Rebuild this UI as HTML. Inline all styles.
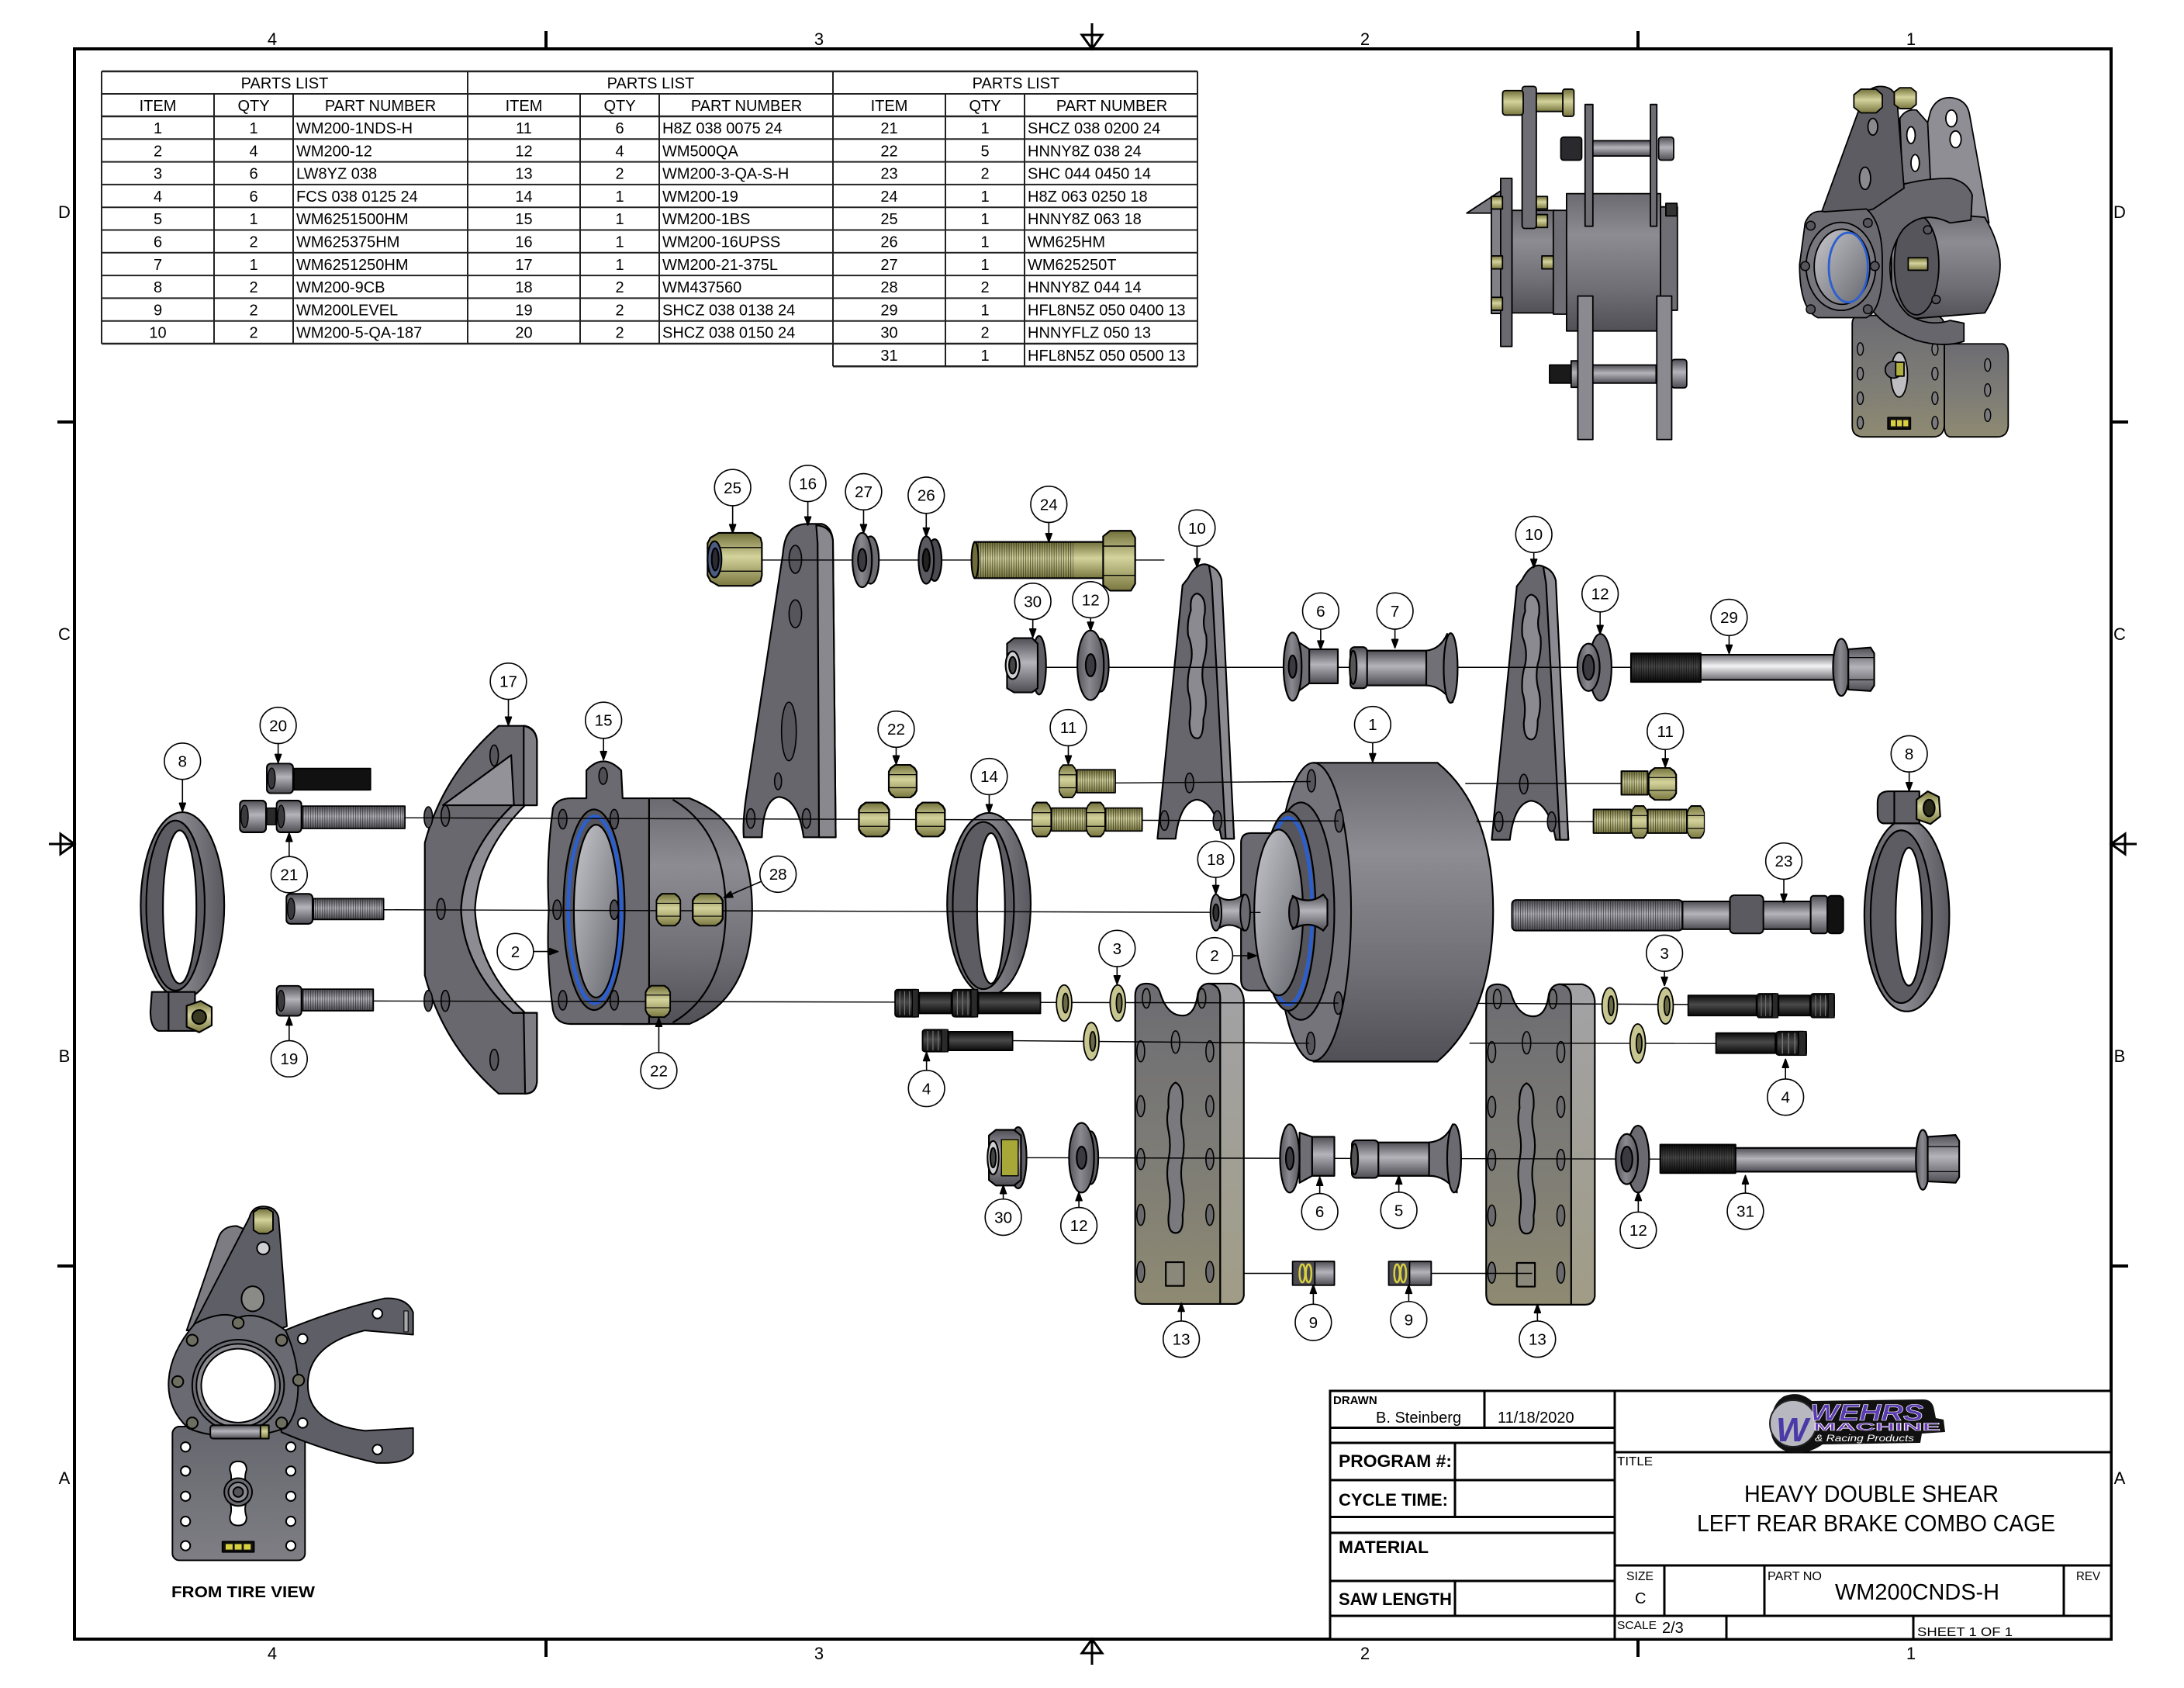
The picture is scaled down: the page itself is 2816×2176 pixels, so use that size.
<!DOCTYPE html>
<html><head><meta charset="utf-8"><title>WM200CNDS-H</title>
<style>html,body{margin:0;padding:0;background:#fff}svg{display:block}text{font-family:"Liberation Sans",Arial,sans-serif;fill:#000}</style>
</head><body>
<svg xmlns="http://www.w3.org/2000/svg" width="2816" height="2176" viewBox="0 0 2816 2176">
<defs>
<linearGradient id="gm" x1="0" y1="0" x2="1" y2="0"><stop offset="0" stop-color="#55555b"/><stop offset="0.45" stop-color="#8a8a90"/><stop offset="1" stop-color="#58585e"/></linearGradient>
<linearGradient id="gh" x1="0" y1="0" x2="0" y2="1"><stop offset="0" stop-color="#6a6a70"/><stop offset="0.3" stop-color="#8c8c92"/><stop offset="0.7" stop-color="#6e6e74"/><stop offset="1" stop-color="#505056"/></linearGradient>
<linearGradient id="gv" x1="0" y1="0" x2="0" y2="1"><stop offset="0" stop-color="#4e4e54"/><stop offset="0.45" stop-color="#b4b4ba"/><stop offset="1" stop-color="#4c4c52"/></linearGradient>
<linearGradient id="gs" x1="0" y1="0" x2="0" y2="1"><stop offset="0" stop-color="#75757b"/><stop offset="0.45" stop-color="#f4f4f6"/><stop offset="1" stop-color="#6c6c72"/></linearGradient>
<linearGradient id="gk" x1="0" y1="0" x2="0" y2="1"><stop offset="0" stop-color="#0a0a0a"/><stop offset="0.45" stop-color="#4a4a4a"/><stop offset="1" stop-color="#0a0a0a"/></linearGradient>
<linearGradient id="gb" x1="0" y1="0" x2="0" y2="1"><stop offset="0" stop-color="#72703a"/><stop offset="0.45" stop-color="#d4d39c"/><stop offset="1" stop-color="#7a7840"/></linearGradient>
<linearGradient id="gt" x1="0" y1="0" x2="0" y2="1"><stop offset="0" stop-color="#6c6c72"/><stop offset="0.5" stop-color="#7c7b76"/><stop offset="1" stop-color="#8e8a72"/></linearGradient>
<linearGradient id="gts" x1="0" y1="0" x2="0" y2="1"><stop offset="0" stop-color="#a2a2a6"/><stop offset="1" stop-color="#a09c86"/></linearGradient>
<linearGradient id="gt2" x1="0" y1="0" x2="0" y2="1"><stop offset="0" stop-color="#66666e"/><stop offset="1" stop-color="#7e7e84"/></linearGradient>
<linearGradient id="gbore" x1="0" y1="0" x2="1" y2="1"><stop offset="0" stop-color="#c6c6cc"/><stop offset="1" stop-color="#66666e"/></linearGradient>
<pattern id="th" width="1.7" height="10" patternUnits="userSpaceOnUse"><rect width="0.6" height="10" fill="#000" fill-opacity="0.5"/></pattern>
<symbol id="nutB" viewBox="0 0 20 26" preserveAspectRatio="none"><path d="M2 3 L5 0.5 L15 0.5 L18 3 L19.5 6 L19.5 20 L18 23 L15 25.5 L5 25.5 L2 23 L0.5 20 L0.5 6 Z" fill="url(#gb)" stroke="#000" stroke-width="1.3"/><line x1="0.5" y1="8" x2="19.5" y2="8" stroke="#000" stroke-width="0.7"/><line x1="0.5" y1="18" x2="19.5" y2="18" stroke="#000" stroke-width="0.7"/></symbol>
<symbol id="cap" viewBox="0 0 20 24" preserveAspectRatio="none"><rect x="0.6" y="0.6" width="18.8" height="22.8" rx="3" fill="url(#gv)" stroke="#000" stroke-width="1.2"/><ellipse cx="4" cy="12" rx="2.6" ry="8" fill="#3a3a3e" stroke="#000" stroke-width="0.8"/></symbol>
<symbol id="spl" viewBox="0 0 18 22" preserveAspectRatio="none"><rect x="0.6" y="0.6" width="16.8" height="20.8" rx="2" fill="url(#gk)" stroke="#000" stroke-width="1"/><g stroke="#777" stroke-width="0.6"><line x1="4" y1="2" x2="4" y2="20"/><line x1="7.5" y1="2" x2="7.5" y2="20"/><line x1="11" y1="2" x2="11" y2="20"/></g><rect x="13" y="0.6" width="4.4" height="20.8" fill="#2a2a2a" stroke="#000" stroke-width="0.8"/></symbol>
</defs>
<rect width="2816" height="2176" fill="#fff"/>

<!-- ===== FRAME ===== -->
<g stroke="#000" fill="none">
<rect x="96" y="63" width="2626" height="2050" stroke-width="4"/>
<g stroke-width="4">
<line x1="704" y1="40" x2="704" y2="63"/><line x1="2112" y1="40" x2="2112" y2="63"/>
<line x1="704" y1="2113" x2="704" y2="2136"/><line x1="2112" y1="2113" x2="2112" y2="2136"/>
<line x1="74" y1="544" x2="96" y2="544"/><line x1="74" y1="1632" x2="96" y2="1632"/>
<line x1="2722" y1="544" x2="2744" y2="544"/><line x1="2722" y1="1632" x2="2744" y2="1632"/>
</g>
<g stroke-width="3">
<line x1="1408" y1="30" x2="1408" y2="63"/><polygon points="1395,45 1421,45 1408,63"/>
<line x1="1408" y1="2113" x2="1408" y2="2146"/><polygon points="1395,2131 1421,2131 1408,2113"/>
<line x1="63" y1="1088" x2="96" y2="1088"/><polygon points="78,1075 78,1101 96,1088"/>
<line x1="2722" y1="1088" x2="2755" y2="1088"/><polygon points="2740,1075 2740,1101 2722,1088"/>
</g>
</g>
<g font-size="22" text-anchor="middle">
<text x="351" y="58">4</text><text x="1056" y="58">3</text><text x="1760" y="58">2</text><text x="2464" y="58">1</text>
<text x="351" y="2139">4</text><text x="1056" y="2139">3</text><text x="1760" y="2139">2</text><text x="2464" y="2139">1</text>
<text x="83" y="281">D</text><text x="83" y="825">C</text><text x="83" y="1369">B</text><text x="83" y="1913">A</text>
<text x="2733" y="281">D</text><text x="2733" y="825">C</text><text x="2733" y="1369">B</text><text x="2733" y="1913">A</text>
</g>

<!-- ===== PARTS LIST TABLE ===== -->
<g stroke="#222" stroke-width="2" fill="none">
<line x1="131" y1="92" x2="1544" y2="92" stroke-width="2.5"/>
<line x1="131" y1="121" x2="1544" y2="121"/>
<line x1="131" y1="150" x2="1544" y2="150" stroke-width="2.5"/>
<line x1="131" y1="179.3" x2="1544" y2="179.3"/><line x1="131" y1="208.6" x2="1544" y2="208.6"/>
<line x1="131" y1="237.9" x2="1544" y2="237.9"/><line x1="131" y1="267.2" x2="1544" y2="267.2"/>
<line x1="131" y1="296.5" x2="1544" y2="296.5"/><line x1="131" y1="325.8" x2="1544" y2="325.8"/>
<line x1="131" y1="355.1" x2="1544" y2="355.1"/><line x1="131" y1="384.4" x2="1544" y2="384.4"/>
<line x1="131" y1="413.7" x2="1544" y2="413.7"/><line x1="131" y1="443" x2="1544" y2="443" stroke-width="2.5"/>
<line x1="1074" y1="472.3" x2="1544" y2="472.3" stroke-width="2.5"/>
<line x1="131" y1="92" x2="131" y2="443"/><line x1="276" y1="121" x2="276" y2="443"/><line x1="378" y1="121" x2="378" y2="443"/>
<line x1="603" y1="92" x2="603" y2="443"/><line x1="748" y1="121" x2="748" y2="443"/><line x1="850" y1="121" x2="850" y2="443"/>
<line x1="1074" y1="92" x2="1074" y2="472.3"/><line x1="1219" y1="121" x2="1219" y2="472.3"/><line x1="1321" y1="121" x2="1321" y2="472.3"/>
<line x1="1544" y1="92" x2="1544" y2="472.3"/>
</g>
<g font-size="20" text-anchor="middle">
<text x="367" y="114">PARTS LIST</text><text x="839" y="114">PARTS LIST</text><text x="1310" y="114">PARTS LIST</text>
<text x="203.5" y="143">ITEM</text><text x="327" y="143">QTY</text><text x="490.5" y="143">PART NUMBER</text>
<text x="675.5" y="143">ITEM</text><text x="799" y="143">QTY</text><text x="962.5" y="143">PART NUMBER</text>
<text x="1146.5" y="143">ITEM</text><text x="1270" y="143">QTY</text><text x="1433.5" y="143">PART NUMBER</text>
<text x="203.5" y="172">1</text><text x="327" y="172">1</text>
<text x="203.5" y="201.3">2</text><text x="327" y="201.3">4</text>
<text x="203.5" y="230.6">3</text><text x="327" y="230.6">6</text>
<text x="203.5" y="259.9">4</text><text x="327" y="259.9">6</text>
<text x="203.5" y="289.2">5</text><text x="327" y="289.2">1</text>
<text x="203.5" y="318.5">6</text><text x="327" y="318.5">2</text>
<text x="203.5" y="347.8">7</text><text x="327" y="347.8">1</text>
<text x="203.5" y="377.1">8</text><text x="327" y="377.1">2</text>
<text x="203.5" y="406.4">9</text><text x="327" y="406.4">2</text>
<text x="203.5" y="435.7">10</text><text x="327" y="435.7">2</text>
<text x="675.5" y="172">11</text><text x="799" y="172">6</text>
<text x="675.5" y="201.3">12</text><text x="799" y="201.3">4</text>
<text x="675.5" y="230.6">13</text><text x="799" y="230.6">2</text>
<text x="675.5" y="259.9">14</text><text x="799" y="259.9">1</text>
<text x="675.5" y="289.2">15</text><text x="799" y="289.2">1</text>
<text x="675.5" y="318.5">16</text><text x="799" y="318.5">1</text>
<text x="675.5" y="347.8">17</text><text x="799" y="347.8">1</text>
<text x="675.5" y="377.1">18</text><text x="799" y="377.1">2</text>
<text x="675.5" y="406.4">19</text><text x="799" y="406.4">2</text>
<text x="675.5" y="435.7">20</text><text x="799" y="435.7">2</text>
<text x="1146.5" y="172">21</text><text x="1270" y="172">1</text>
<text x="1146.5" y="201.3">22</text><text x="1270" y="201.3">5</text>
<text x="1146.5" y="230.6">23</text><text x="1270" y="230.6">2</text>
<text x="1146.5" y="259.9">24</text><text x="1270" y="259.9">1</text>
<text x="1146.5" y="289.2">25</text><text x="1270" y="289.2">1</text>
<text x="1146.5" y="318.5">26</text><text x="1270" y="318.5">1</text>
<text x="1146.5" y="347.8">27</text><text x="1270" y="347.8">1</text>
<text x="1146.5" y="377.1">28</text><text x="1270" y="377.1">2</text>
<text x="1146.5" y="406.4">29</text><text x="1270" y="406.4">1</text>
<text x="1146.5" y="435.7">30</text><text x="1270" y="435.7">2</text>
<text x="1146.5" y="465">31</text><text x="1270" y="465">1</text>
</g>
<g font-size="20">
<text x="382" y="172">WM200-1NDS-H</text><text x="382" y="201.3">WM200-12</text><text x="382" y="230.6">LW8YZ 038</text>
<text x="382" y="259.9">FCS 038 0125 24</text><text x="382" y="289.2">WM6251500HM</text><text x="382" y="318.5">WM625375HM</text>
<text x="382" y="347.8">WM6251250HM</text><text x="382" y="377.1">WM200-9CB</text><text x="382" y="406.4">WM200LEVEL</text>
<text x="382" y="435.7">WM200-5-QA-187</text>
<text x="854" y="172">H8Z 038 0075 24</text><text x="854" y="201.3">WM500QA</text><text x="854" y="230.6">WM200-3-QA-S-H</text>
<text x="854" y="259.9">WM200-19</text><text x="854" y="289.2">WM200-1BS</text><text x="854" y="318.5">WM200-16UPSS</text>
<text x="854" y="347.8">WM200-21-375L</text><text x="854" y="377.1">WM437560</text><text x="854" y="406.4">SHCZ 038 0138 24</text>
<text x="854" y="435.7">SHCZ 038 0150 24</text>
<text x="1325" y="172">SHCZ 038 0200 24</text><text x="1325" y="201.3">HNNY8Z 038 24</text><text x="1325" y="230.6">SHC 044 0450 14</text>
<text x="1325" y="259.9">H8Z 063 0250 18</text><text x="1325" y="289.2">HNNY8Z 063 18</text><text x="1325" y="318.5">WM625HM</text>
<text x="1325" y="347.8">WM625250T</text><text x="1325" y="377.1">HNNY8Z 044 14</text><text x="1325" y="406.4">HFL8N5Z 050 0400 13</text>
<text x="1325" y="435.7">HNNYFLZ 050 13</text><text x="1325" y="465">HFL8N5Z 050 0500 13</text>
</g>

<!-- ===== TITLE BLOCK ===== -->
<g stroke="#000" stroke-width="3" fill="none">
<rect x="1715" y="1793" width="1007" height="320" fill="#fff"/>
<line x1="2082" y1="1793" x2="2082" y2="2113"/>
<line x1="1715" y1="1840.5" x2="2082" y2="1840.5"/><line x1="1715" y1="1860" x2="2082" y2="1860"/>
<line x1="1715" y1="1908" x2="2082" y2="1908"/><line x1="1715" y1="1955.5" x2="2082" y2="1955.5"/>
<line x1="1715" y1="1976" x2="2082" y2="1976"/><line x1="1715" y1="2038" x2="2082" y2="2038"/>
<line x1="1715" y1="2083" x2="2722" y2="2083"/>
<line x1="1914" y1="1793" x2="1914" y2="1840.5"/>
<line x1="1876" y1="1860" x2="1876" y2="1955.5"/><line x1="1876" y1="2038" x2="1876" y2="2083"/>
<line x1="2082" y1="1872" x2="2722" y2="1872"/><line x1="2082" y1="2018" x2="2722" y2="2018"/>
<line x1="2146" y1="2018" x2="2146" y2="2083"/><line x1="2275" y1="2018" x2="2275" y2="2083"/><line x1="2661" y1="2018" x2="2661" y2="2083"/>
<line x1="2226" y1="2083" x2="2226" y2="2113"/><line x1="2467" y1="2083" x2="2467" y2="2113"/>
</g>
<text x="1719" y="1810" font-size="15" font-weight="bold">DRAWN</text>
<text x="1774" y="1834" font-size="20">B. Steinberg</text>
<text x="1931" y="1834" font-size="20">11/18/2020</text>
<g font-size="22" font-weight="bold">
<text x="1726" y="1891" textLength="146" lengthAdjust="spacingAndGlyphs">PROGRAM #:</text>
<text x="1726" y="1941" textLength="141" lengthAdjust="spacingAndGlyphs">CYCLE TIME:</text>
<text x="1726" y="2002" textLength="116" lengthAdjust="spacingAndGlyphs">MATERIAL</text>
<text x="1726" y="2069" textLength="146" lengthAdjust="spacingAndGlyphs">SAW LENGTH</text>
</g>
<text x="2085" y="1889" font-size="16" textLength="46" lengthAdjust="spacingAndGlyphs">TITLE</text>
<text x="2413" y="1936" font-size="31" text-anchor="middle" textLength="328" lengthAdjust="spacingAndGlyphs">HEAVY DOUBLE SHEAR</text>
<text x="2419" y="1974" font-size="31" text-anchor="middle" textLength="462" lengthAdjust="spacingAndGlyphs">LEFT REAR BRAKE COMBO CAGE</text>
<text x="2097" y="2037" font-size="16" textLength="35" lengthAdjust="spacingAndGlyphs">SIZE</text>
<text x="2108" y="2067" font-size="20">C</text>
<text x="2279" y="2037" font-size="16" textLength="70" lengthAdjust="spacingAndGlyphs">PART NO</text>
<text x="2366" y="2062" font-size="29" textLength="212" lengthAdjust="spacingAndGlyphs">WM200CNDS-H</text>
<text x="2677" y="2037" font-size="16" textLength="31" lengthAdjust="spacingAndGlyphs">REV</text>
<text x="2085" y="2100" font-size="15" textLength="51" lengthAdjust="spacingAndGlyphs">SCALE</text>
<text x="2143" y="2105" font-size="20">2/3</text>
<text x="2472" y="2109" font-size="16" textLength="123" lengthAdjust="spacingAndGlyphs">SHEET 1  OF 1</text>
<!-- logo -->
<path d="M2284 1850 Q2280 1812 2300 1800 Q2320 1792 2336 1806 L2480 1804 Q2492 1804 2494 1818 L2496 1828 L2506 1830 L2508 1846 L2478 1848 L2476 1860 L2350 1862 Q2330 1876 2306 1872 Q2288 1866 2284 1850 Z" fill="#111"/>
<circle cx="2312" cy="1835" r="30" fill="#b8b8c0" stroke="#222" stroke-width="2"/>
<text x="2290" y="1858" font-size="44" font-weight="bold" font-style="italic" style="fill:#4a3aa8">W</text>
<text x="2334" y="1831" font-size="30" font-weight="bold" font-style="italic" textLength="146" lengthAdjust="spacingAndGlyphs" style="fill:#5a3ab0;stroke:#fff;stroke-width:0.6">WEHRS</text>
<text x="2338" y="1844" font-size="14" font-weight="bold" textLength="164" lengthAdjust="spacingAndGlyphs" style="fill:#6a3ab8;stroke:#fff;stroke-width:0.5">MACHINE</text>
<text x="2340" y="1858" font-size="12" font-style="italic" textLength="128" lengthAdjust="spacingAndGlyphs" style="fill:#fff">&amp; Racing Products</text>

<!-- ===== DRAWING (display coordinates) ===== -->
<g transform="scale(1.795918)" stroke-linejoin="round">

<!-- Ring 8 left -->
<g stroke="#000" stroke-width="1.2">
<ellipse cx="131" cy="650" rx="30" ry="67" fill="url(#gm)"/>
<ellipse cx="126" cy="650" rx="21" ry="61" fill="#5c5c62"/>
<ellipse cx="129" cy="651" rx="12" ry="55" fill="#fff"/>
<path d="M109 712 L140 712 L140 740 L114 740 Q108 738 108 726 Z" fill="#606066"/>
<line x1="121" y1="712" x2="121" y2="740"/>
<polygon points="134,722 144,718.5 152,723 152,736 143,741 134,737" fill="url(#gb)"/>
<circle cx="143" cy="730" r="5" fill="#3a3a22"/>
</g>

<!-- Bracket 17 -->
<g stroke="#000" stroke-width="1.2">
<path d="M358 521 L377 521 Q385 523 385.5 532 L385.5 578 L368 578 Q333 612 331 653 Q333 695 368 727 L385.5 727 L385.5 776 Q385 785 377 785 L358 785 Q318 750 305 700 L305 605 Q318 556 358 521 Z" fill="#68686e"/>
<path d="M368 578 Q333 612 331 653 Q333 695 368 727 L377 727 Q343 695 341 653 Q343 612 377 578 Z" fill="#8c8c92"/>
<path d="M376 521 Q385 523 385.5 532 L385.5 578 L376 578 Z" fill="#7e7e84"/>
<path d="M376 727 L385.5 727 L385.5 776 Q385 785 377 785 Z" fill="#7e7e84"/>
<polygon points="318,578 367,542 369,578" fill="#929298"/>
<g fill="#55555b" stroke-width="0.9">
<ellipse cx="307.5" cy="586.6" rx="3" ry="7.5"/><ellipse cx="319.7" cy="585.6" rx="3" ry="7.5"/>
<ellipse cx="316.6" cy="652.5" rx="3" ry="7.5"/><ellipse cx="307.5" cy="718.4" rx="3" ry="7.5"/>
<ellipse cx="319.7" cy="718.4" rx="3" ry="7.5"/><ellipse cx="354.8" cy="542.3" rx="3" ry="7.5"/>
<ellipse cx="354.8" cy="760.7" rx="3" ry="7.5"/>
</g>
</g>

<!-- Hub 15 -->
<g stroke="#000" stroke-width="1.2">
<path d="M446 573 L495 573 Q540 590 540 653 Q540 716 495 735 L446 735 Z" fill="url(#gh)"/>
<path d="M483 574 Q521 596 521 653 Q521 712 483 734" fill="none"/>
<line x1="465" y1="573" x2="465" y2="735"/>
<path d="M397 580 Q400 573 410 573 L421 573 L421 553 Q433 540 446 553 L447 573 L466 573 L466 735 L410 735 Q399 735 397 725 Q392 690 394 653 Q392 615 397 580 Z" fill="#6a6a70"/>
<ellipse cx="426.5" cy="653" rx="22" ry="72" fill="#55555b"/>
<ellipse cx="427" cy="653" rx="19" ry="67" fill="none" stroke="#2b5fd0" stroke-width="2.6"/>
<ellipse cx="428" cy="654" rx="16" ry="62" fill="url(#gbore)"/>
<g fill="#4e4e54" stroke-width="0.9">
<ellipse cx="404" cy="588" rx="3" ry="7"/><ellipse cx="441" cy="588" rx="3" ry="7"/>
<ellipse cx="400" cy="653" rx="3" ry="7"/><ellipse cx="441" cy="653" rx="3" ry="7"/>
<ellipse cx="404" cy="718" rx="3" ry="7"/><ellipse cx="441" cy="718" rx="3" ry="7"/>
<ellipse cx="433" cy="557" rx="3" ry="6"/>
</g>
</g>

<!-- Bracket 16 -->
<g stroke="#000" stroke-width="1.2">
<path d="M566 383 Q570 376 580 376 L590 376 Q597 378 598 388 L600 601 L577 601 Q573 573 559 572 Q548 574 547 601 L534 601 Q533 590 536 570 L562 398 Q563 387 566 383 Z" fill="#66666c"/>
<path d="M586 377 Q597 378 598 388 L600 601 L588 601 L587 390 Z" fill="#88888e"/>
<g fill="#55555b" stroke-width="0.9">
<ellipse cx="571" cy="401.5" rx="4.5" ry="10"/><ellipse cx="571" cy="440.6" rx="4.5" ry="10"/>
<ellipse cx="566.4" cy="525" rx="5.3" ry="21"/><ellipse cx="558.6" cy="560.8" rx="2.5" ry="6"/>
<ellipse cx="539" cy="587.5" rx="3" ry="7"/><ellipse cx="579" cy="587.5" rx="3" ry="7"/>
</g>
</g>

<!-- Bracket 10 left / right -->
<g id="b10" stroke="#000" stroke-width="1.2">
<path d="M853 415 Q858 405 865 405 Q872 406 875 414 L886 602 L877 602 Q872 575 859 574 Q847 576 844 602 L831 602 L849 420 Z" fill="#66666c"/>
<path d="M868 406 Q875 408 877 416 L886 602 L880 602 L870 418 Z" fill="#8a8a90"/>
<path d="M859.5 426 Q866 428 865 440 Q863 448 866 456 Q867 466 864 476 Q862 486 865 496 Q867 506 864 516 Q864 530 859.5 530 Q854 530 854 518 Q856 506 853 496 Q852 486 855 476 Q857 466 853 456 Q852 446 855 438 Q854 427 859.5 426 Z" fill="#8a8a90"/>
<g fill="#55555b" stroke-width="0.9"><ellipse cx="854" cy="562" rx="3" ry="7"/><ellipse cx="836" cy="589" rx="3" ry="7"/><ellipse cx="874" cy="589" rx="3" ry="7"/></g>
</g>
<use href="#b10" transform="translate(240,0.8)"/>

<!-- Ring 14 -->
<g stroke="#000" stroke-width="1.2">
<ellipse cx="710" cy="649" rx="30" ry="65.5" fill="url(#gm)"/>
<ellipse cx="706" cy="650" rx="22" ry="60" fill="#5c5c62"/>
<ellipse cx="711.5" cy="652" rx="10" ry="54" fill="#fff"/>
</g>

<!-- Hub 1 -->
<g stroke="#000" stroke-width="1.2">
<path d="M943 547.5 L1032 547.5 Q1072 580 1072 654 Q1072 728 1032 762 L943 762 Z" fill="url(#gh)"/>
<ellipse cx="943" cy="654.5" rx="27" ry="107" fill="#74747a"/>
<path d="M891 605 Q891 598 898 598 L935 598 L935 711 L898 711 Q891 711 891 703 Z" fill="#6a6a70"/>
<ellipse cx="934" cy="654" rx="24" ry="78" fill="#616167"/>
<ellipse cx="925" cy="654" rx="19.5" ry="71.5" fill="#55555b"/>
<ellipse cx="925" cy="654" rx="17" ry="67" fill="none" stroke="#2b5fd0" stroke-width="2.6"/>
<ellipse cx="918" cy="655" rx="17.5" ry="59.5" fill="url(#gbore)"/>
<path d="M928 643 Q940 650 950 642 L953 646 L953 664 L950 668 Q940 660 928 667 Z" fill="url(#gv)"/>
<ellipse cx="929" cy="655" rx="3.5" ry="11" fill="#55555b"/>
<g fill="#55555b" stroke-width="0.9">
<ellipse cx="941.5" cy="560.5" rx="3" ry="8"/><ellipse cx="961.4" cy="589.3" rx="3" ry="8"/>
<ellipse cx="960.8" cy="720" rx="3" ry="8"/><ellipse cx="941" cy="748.9" rx="3" ry="8"/>
</g>
</g>

<!-- Bracket 13 left / right -->
<g id="b13" stroke="#000" stroke-width="1.2">
<path d="M867 706 L884 706 Q892 708 893 718 L893 930 Q892 936 886 936 L876 936 L876 716 Q875 707 867 706 Z" fill="url(#gts)"/>
<path d="M815 715 Q815 706 823 706 Q831 706 833 713 Q838 729 849 729 Q858 729 860 713 Q862 706 868 706 Q876 707 876 716 L876 936 L821 936 Q815 936 815 928 Z" fill="url(#gt)"/>
<g fill="#6a6a6c" stroke-width="0.9">
<ellipse cx="823" cy="716.6" rx="2.8" ry="7"/><ellipse cx="862.9" cy="716.6" rx="2.8" ry="7"/>
<ellipse cx="844" cy="748" rx="3" ry="8"/>
<ellipse cx="819" cy="754.6" rx="2.8" ry="7.5"/><ellipse cx="868.6" cy="754.6" rx="2.8" ry="7.5"/>
<ellipse cx="819" cy="794" rx="2.8" ry="7.5"/><ellipse cx="868.6" cy="794" rx="2.8" ry="7.5"/>
<ellipse cx="819" cy="832" rx="2.8" ry="7.5"/><ellipse cx="868.6" cy="832" rx="2.8" ry="7.5"/>
<ellipse cx="819" cy="872" rx="2.8" ry="7.5"/><ellipse cx="868.6" cy="872" rx="2.8" ry="7.5"/>
<ellipse cx="819" cy="913" rx="2.8" ry="7.5"/><ellipse cx="868.6" cy="913" rx="2.8" ry="7.5"/>
</g>
<path d="M844 777 Q850 780 849 795 Q847 803 849 812 Q851 822 849 832 Q847 842 849 852 Q851 862 849 872 Q850 885 844 885 Q838 885 839 872 Q841 862 839 852 Q837 842 839 832 Q841 822 839 812 Q837 803 839 795 Q838 780 844 777 Z" fill="#7a7a7e"/>
<rect x="837" y="906" width="13" height="17" fill="#8a887a"/>
</g>
<use href="#b13" transform="translate(252,0.5)"/>

<!-- Ring 8 right -->
<g stroke="#000" stroke-width="1.2">
<ellipse cx="1369" cy="657" rx="30.5" ry="69" fill="url(#gm)"/>
<ellipse cx="1365" cy="658" rx="22" ry="62" fill="#5c5c62"/>
<ellipse cx="1370.5" cy="658" rx="9.5" ry="49.5" fill="#fff"/>
<path d="M1348 576 Q1348 568 1356 568 L1378 568 L1378 591 L1352 591 Q1348 590 1348 584 Z" fill="#606066"/>
<line x1="1360" y1="568" x2="1360" y2="591"/>
<polygon points="1376,574 1384,568 1392,572 1393,586 1386,591.5 1376,588" fill="url(#gb)"/>
<ellipse cx="1385" cy="580" rx="4" ry="6" fill="#2a2a1a"/>
</g>

<!-- connector lines -->
<g stroke="#000" stroke-width="0.8" fill="none">
<line x1="530" y1="402" x2="836" y2="402"/>
<line x1="735" y1="479" x2="1175" y2="479"/>
<line x1="800" y1="562" x2="941" y2="561"/><line x1="1052" y1="562.4" x2="1164" y2="562.4"/>
<line x1="290" y1="587" x2="961" y2="589.3"/><line x1="1060" y1="589.6" x2="1145" y2="589.8"/>
<line x1="275" y1="653" x2="905" y2="655"/>
<line x1="268" y1="718.5" x2="961" y2="720"/><line x1="1060" y1="720.2" x2="1212" y2="721"/>
<line x1="727" y1="747" x2="940" y2="748.9"/><line x1="1055" y1="748.8" x2="1232" y2="749"/>
<line x1="737" y1="831" x2="1192" y2="832"/>
<line x1="893" y1="914" x2="928" y2="914"/><line x1="1028" y1="914" x2="1100" y2="914"/>
</g>

<!-- Left bolts 20/21/19 -->
<use href="#cap" x="191" y="547.5" width="20" height="22.5"/>
<rect x="211" y="551.6" width="55" height="15.4" fill="#111" stroke="#000" stroke-width="1"/>
<use href="#cap" x="171.6" y="574" width="20" height="24"/>
<rect x="191.5" y="580" width="6.5" height="12" fill="#2a2a2a" stroke="#000" stroke-width="0.8"/>
<use href="#cap" x="198" y="574" width="19" height="24"/>
<rect x="217" y="578.6" width="73.7" height="16.1" fill="url(#gv)" stroke="#000" stroke-width="1"/>
<rect x="217" y="578.6" width="73.7" height="16.1" fill="url(#th)"/>
<use href="#cap" x="205" y="641" width="20" height="22.7"/>
<rect x="225" y="645" width="50.4" height="15" fill="url(#gv)" stroke="#000" stroke-width="1"/>
<rect x="225" y="645" width="50.4" height="15" fill="url(#th)"/>
<use href="#cap" x="198" y="707" width="19" height="22.7"/>
<rect x="217" y="710" width="51" height="15.5" fill="url(#gv)" stroke="#000" stroke-width="1"/>
<rect x="217" y="710" width="51" height="15.5" fill="url(#th)"/>

<!-- nuts on hub 15 -->
<use href="#nutB" x="470.8" y="641" width="18.2" height="24"/>
<use href="#nutB" x="496.7" y="641" width="22.8" height="24"/>
<use href="#nutB" x="463" y="707" width="18.7" height="23.6"/>

<!-- Nut 25, washers 27/26, bolt 24 -->
<g stroke="#000" stroke-width="1.2">
<path d="M510 386 L516 382.5 L540 382.5 L546 386 L547 390 L547 413 L546 417 L540 420.5 L516 420.5 L510 417 L508 413 L508 390 Z" fill="url(#gb)"/>
<line x1="508" y1="393" x2="547" y2="393" stroke-width="0.8"/><line x1="508" y1="410" x2="547" y2="410" stroke-width="0.8"/>
<ellipse cx="513" cy="401.5" rx="5" ry="13" fill="#4c5c80"/>
<ellipse cx="513.5" cy="401.5" rx="2.5" ry="8" fill="#2a2a30"/>
<ellipse cx="625" cy="402" rx="6" ry="17" fill="#6a6a70"/>
<ellipse cx="619" cy="402" rx="7" ry="19.5" fill="url(#gm)"/>
<ellipse cx="619" cy="402" rx="3" ry="8" fill="#3a3a40"/>
<ellipse cx="671" cy="402" rx="5" ry="15" fill="#4a4a50"/>
<ellipse cx="665" cy="402" rx="5.5" ry="17" fill="#5a5a60"/>
<ellipse cx="665" cy="402" rx="2.5" ry="8" fill="#222"/>
<rect x="699.5" y="389" width="96" height="26" fill="url(#gb)"/>
<rect x="699.5" y="389" width="71" height="26" fill="url(#th)" stroke="none"/>
<ellipse cx="700" cy="402" rx="2.5" ry="13" fill="#6e6c3a"/>
<path d="M792 385 L797 381 L812 381 L815 386 L815 419 L812 424 L797 424 L792 420 Z" fill="url(#gb)"/>
<line x1="792" y1="392" x2="815" y2="392" stroke-width="0.8"/><line x1="792" y1="413" x2="815" y2="413" stroke-width="0.8"/>
</g>

<!-- Nut 30 top, washer 12 top, spacers 6/7 -->
<g stroke="#000" stroke-width="1.2">
<ellipse cx="746" cy="477.5" rx="5" ry="21" fill="#5e5e64"/>
<path d="M723 462 L728 458 L741 458 L745 462 L745 494 L741 497 L728 497 L723 494 Z" fill="url(#gv)"/>
<ellipse cx="727" cy="477.5" rx="5" ry="10" fill="#d0d0d4"/>
<ellipse cx="727" cy="477.5" rx="2.5" ry="6" fill="#444"/>
<ellipse cx="790" cy="477.5" rx="6" ry="19" fill="#5e5e64"/>
<ellipse cx="783" cy="477.5" rx="9.5" ry="25" fill="url(#gm)"/>
<ellipse cx="783" cy="477.5" rx="3.5" ry="8" fill="#3a3a40"/>
<rect x="939" y="466" width="21.5" height="24.5" fill="url(#gv)"/>
<path d="M931 460 L940 466 L940 490.5 L931 497 Z" fill="#6e6e74"/>
<ellipse cx="928" cy="478.5" rx="6.5" ry="24.5" fill="url(#gm)"/>
<ellipse cx="928" cy="478.5" rx="2.8" ry="8" fill="#3a3a40"/>
<rect x="980" y="467" width="46" height="25" fill="url(#gv)"/>
<rect x="969.5" y="464.5" width="12" height="29.5" rx="3" fill="url(#gv)"/>
<ellipse cx="971.5" cy="479" rx="2.5" ry="12" fill="#555"/>
<path d="M1024 467 Q1034 466 1039 455 L1043 504 Q1034 492 1024 492 Z" fill="#707076"/>
<ellipse cx="1041.5" cy="479.5" rx="5" ry="25" fill="#6a6a70"/>
</g>

<!-- Washer 12 right top, bolt 29 -->
<g stroke="#000" stroke-width="1.2">
<ellipse cx="1149" cy="479" rx="8" ry="24" fill="#6a6a70"/>
<ellipse cx="1140.5" cy="479" rx="8" ry="17" fill="url(#gm)"/>
<ellipse cx="1140.5" cy="479" rx="4" ry="9" fill="#3a3a40"/>
<rect x="1171" y="469" width="50" height="20.5" fill="url(#gk)"/>
<rect x="1171" y="469" width="50" height="20.5" fill="url(#th)" stroke="none"/>
<rect x="1221" y="470" width="98" height="18" fill="url(#gs)"/>
<ellipse cx="1322" cy="479" rx="6" ry="20.5" fill="url(#gm)"/>
<path d="M1327 466 L1343 464.8 L1345.6 469 L1345.6 492 L1343 496 L1327 495 Z" fill="url(#gv)"/>
<line x1="1327" y1="472" x2="1345.6" y2="472" stroke-width="0.7"/><line x1="1327" y1="488" x2="1345.6" y2="488" stroke-width="0.7"/>
</g>

<!-- Nuts 22 and bolts 11 (left) -->
<use href="#nutB" x="637.5" y="548.5" width="21.2" height="24.5"/>
<use href="#nutB" x="616" y="575.5" width="23" height="25.5"/>
<use href="#nutB" x="657" y="575.5" width="22" height="25.5"/>
<g stroke="#000" stroke-width="1">
<rect x="773" y="552.5" width="27.7" height="16.5" fill="url(#gb)"/><rect x="773" y="552.5" width="27.7" height="16.5" fill="url(#th)" stroke="none"/>
<rect x="755" y="580" width="25" height="16.5" fill="url(#gb)"/><rect x="755" y="580" width="25" height="16.5" fill="url(#th)" stroke="none"/>
<rect x="793.7" y="580" width="26.3" height="16.5" fill="url(#gb)"/><rect x="793.7" y="580" width="26.3" height="16.5" fill="url(#th)" stroke="none"/>
</g>
<use href="#nutB" x="760" y="548.6" width="13" height="24.4"/>
<use href="#nutB" x="740.6" y="575.5" width="14.4" height="25.5"/>
<use href="#nutB" x="779.6" y="575.5" width="14.1" height="25.5"/>

<!-- Bolts 11 right -->
<g stroke="#000" stroke-width="1">
<rect x="1164" y="553.5" width="19" height="17" fill="url(#gb)"/><rect x="1164" y="553.5" width="19" height="17" fill="url(#th)" stroke="none"/>
<rect x="1144" y="581" width="27" height="17" fill="url(#gb)"/><rect x="1144" y="581" width="27" height="17" fill="url(#th)" stroke="none"/>
<rect x="1183" y="581" width="28" height="17" fill="url(#gb)"/><rect x="1183" y="581" width="28" height="17" fill="url(#th)" stroke="none"/>
</g>
<use href="#nutB" x="1183" y="550.7" width="21" height="24"/>
<use href="#nutB" x="1171" y="578" width="12" height="24"/>
<use href="#nutB" x="1211" y="578" width="13" height="24"/>

<!-- Spacer 18 -->
<g stroke="#000" stroke-width="1.1">
<path d="M873 642 Q882 650 893 642 L893 668 Q882 660 873 668 Z" fill="url(#gv)"/>
<ellipse cx="873" cy="655" rx="4" ry="13" fill="#77777d"/>
<ellipse cx="873" cy="655" rx="2" ry="6" fill="#333"/>
<ellipse cx="894" cy="655" rx="3.5" ry="13" fill="#6a6a70"/>
</g>

<!-- Bolt 23 -->
<g stroke="#000" stroke-width="1.1">
<rect x="1085.5" y="646" width="122.5" height="22" rx="3" fill="url(#gv)"/>
<rect x="1085.5" y="646" width="122.5" height="22" fill="url(#th)" stroke="none"/>
<rect x="1208" y="647" width="92" height="20" fill="url(#gv)"/>
<rect x="1242" y="642.6" width="24" height="27.4" rx="3" fill="#5a5a60"/>
<rect x="1300" y="643" width="12" height="27" rx="2" fill="url(#gv)"/>
<rect x="1312" y="643" width="11.4" height="27" rx="3" fill="#111"/>
</g>

<!-- Washers 3 and bolts 4 -->
<g stroke="#000" stroke-width="1">
<ellipse cx="764" cy="720" rx="5.5" ry="13" fill="#c7c690"/><ellipse cx="765" cy="720" rx="2" ry="7" fill="#6a6a48"/>
<ellipse cx="802.5" cy="720" rx="5.5" ry="13" fill="#c7c690"/><ellipse cx="803.5" cy="720" rx="2" ry="7" fill="#6a6a48"/>
<ellipse cx="783.5" cy="747.5" rx="5.5" ry="13.5" fill="#c7c690"/><ellipse cx="784.5" cy="747.5" rx="2" ry="7" fill="#6a6a48"/>
<ellipse cx="1155.7" cy="722" rx="5.5" ry="13" fill="#c7c690"/><ellipse cx="1156.7" cy="722" rx="2" ry="7" fill="#6a6a48"/>
<ellipse cx="1195.8" cy="722" rx="5.5" ry="13" fill="#c7c690"/><ellipse cx="1196.8" cy="722" rx="2" ry="7" fill="#6a6a48"/>
<ellipse cx="1175.8" cy="749" rx="5.5" ry="14" fill="#c7c690"/><ellipse cx="1176.8" cy="749" rx="2" ry="7" fill="#6a6a48"/>
<rect x="660" y="712.5" width="23" height="15" fill="url(#gk)"/>
<rect x="702.5" y="712.5" width="44.5" height="15" fill="url(#gk)"/>
<rect x="681" y="740.5" width="46" height="13.5" fill="url(#gk)"/>
<rect x="1212" y="714.5" width="49" height="14.5" fill="url(#gk)"/>
<rect x="1277" y="714.5" width="22.5" height="14.5" fill="url(#gk)"/>
<rect x="1232" y="741.5" width="42.6" height="14.5" fill="url(#gk)"/>
</g>
<use href="#spl" x="642" y="709.7" width="18" height="20.8"/>
<use href="#spl" x="683" y="709.7" width="19.5" height="20.8"/>
<use href="#spl" x="661.7" y="738.5" width="19.5" height="17"/>
<use href="#spl" x="1261" y="712.7" width="16" height="18.3"/>
<use href="#spl" x="1299.5" y="712.7" width="18" height="18.3"/>
<use href="#spl" x="1274.6" y="739.8" width="22.9" height="18.2"/>

<!-- Bottom row: nut 30, washer 12, spacer 6, spacer 5, washer 12, bolt 31 -->
<g stroke="#000" stroke-width="1.2">
<ellipse cx="731" cy="831" rx="6" ry="22" fill="#5e5e64"/>
<path d="M710 815 L715 811 L728 811 L733 815 L733 847 L728 851 L715 851 L710 847 Z" fill="url(#gv)"/>
<rect x="719" y="818" width="12" height="26" fill="#a8a838" stroke-width="0.8"/>
<ellipse cx="713" cy="831" rx="4" ry="12" fill="#d0d0d4"/>
<ellipse cx="713" cy="831" rx="2" ry="7" fill="#444"/>
<ellipse cx="783" cy="831" rx="5.5" ry="19" fill="#5e5e64"/>
<ellipse cx="776.5" cy="831" rx="9" ry="25" fill="url(#gm)"/>
<ellipse cx="776.5" cy="831" rx="3.5" ry="8" fill="#3a3a40"/>
<rect x="942" y="816" width="16" height="28" fill="url(#gv)"/>
<path d="M933 813 L942 816 L942 844 L933 849 Z" fill="#6e6e74"/>
<ellipse cx="926" cy="831.5" rx="7" ry="24.5" fill="url(#gm)"/>
<ellipse cx="926" cy="831.5" rx="2.8" ry="8" fill="#3a3a40"/>
<rect x="988" y="820" width="40" height="24" fill="url(#gv)"/>
<rect x="970.6" y="818.5" width="19" height="27" rx="3" fill="url(#gv)"/>
<ellipse cx="972.5" cy="832" rx="2.5" ry="11" fill="#555"/>
<path d="M1026 820 Q1038 819 1043 807 L1046 856 Q1038 844 1026 844 Z" fill="#707076"/>
<ellipse cx="1044" cy="831.5" rx="5" ry="24.5" fill="#6a6a70"/>
<ellipse cx="1176" cy="832" rx="8" ry="24" fill="#6a6a70"/>
<ellipse cx="1168" cy="832" rx="8" ry="18" fill="url(#gm)"/>
<ellipse cx="1168" cy="832" rx="4" ry="9" fill="#3a3a40"/>
<rect x="1192" y="821.6" width="54" height="20.4" fill="url(#gk)"/>
<rect x="1192" y="821.6" width="54" height="20.4" fill="url(#th)" stroke="none"/>
<rect x="1246" y="824" width="132" height="17" fill="url(#gv)"/>
<ellipse cx="1380.5" cy="832.5" rx="5" ry="21.5" fill="url(#gm)"/>
<path d="M1384 816 L1404 814.7 L1406.6 819 L1406.6 845 L1404 849 L1384 848 Z" fill="url(#gv)"/>
<line x1="1384" y1="823" x2="1406.6" y2="823" stroke-width="0.7"/><line x1="1384" y1="841" x2="1406.6" y2="841" stroke-width="0.7"/>
</g>

<!-- Levels 9 -->
<g stroke="#000" stroke-width="1">
<rect x="928" y="905.5" width="30" height="17" fill="#4a4a50"/>
<rect x="944" y="905.5" width="14" height="17" fill="url(#gv)"/>
<ellipse cx="935" cy="914" rx="2" ry="6.5" fill="none" stroke="#d8d040" stroke-width="1.4"/>
<ellipse cx="939.5" cy="914" rx="2" ry="6.5" fill="none" stroke="#d8d040" stroke-width="1.4"/>
<rect x="997" y="905.5" width="30.5" height="17" fill="#4a4a50"/>
<rect x="1012" y="905.5" width="15.5" height="17" fill="url(#gv)"/>
<ellipse cx="1003" cy="914" rx="2" ry="6.5" fill="none" stroke="#d8d040" stroke-width="1.4"/>
<ellipse cx="1007.5" cy="914" rx="2" ry="6.5" fill="none" stroke="#d8d040" stroke-width="1.4"/>
</g>

<!-- ===== Balloons ===== -->
<g stroke="#000" stroke-width="0.9">
<line x1="526" y1="363" x2="526" y2="382.5"/><polygon points="523.8,376.5 528.2,376.5 526,382.5" fill="#000"/>
<line x1="580" y1="360" x2="580" y2="377"/><polygon points="577.8,371 582.2,371 580,377" fill="#000"/>
<line x1="620" y1="366" x2="620" y2="382.5"/><polygon points="617.8,376.5 622.2,376.5 620,382.5" fill="#000"/>
<line x1="665" y1="368.5" x2="665" y2="385"/><polygon points="662.8,379 667.2,379 665,385" fill="#000"/>
<line x1="753" y1="375" x2="753" y2="389"/><polygon points="750.8,383 755.2,383 753,389" fill="#000"/>
<line x1="859.4" y1="392" x2="859.4" y2="407"/><polygon points="857.2,401 861.6,401 859.4,407" fill="#000"/>
<line x1="741.5" y1="444.6" x2="741.5" y2="457.5"/><polygon points="739.3,451.5 743.7,451.5 741.5,457.5" fill="#000"/>
<line x1="783" y1="443.5" x2="783" y2="452.6"/><polygon points="780.8,446.6 785.2,446.6 783,452.6" fill="#000"/>
<line x1="948.2" y1="451.6" x2="948.2" y2="466"/><polygon points="946,460 950.4,460 948.2,466" fill="#000"/>
<line x1="1001.5" y1="451.6" x2="1001.5" y2="465"/><polygon points="999.3,459 1003.7,459 1001.5,465" fill="#000"/>
<line x1="1101.2" y1="396.6" x2="1101.2" y2="407.4"/><polygon points="1099,401.4 1103.4,401.4 1101.2,407.4" fill="#000"/>
<line x1="1148.8" y1="439.2" x2="1148.8" y2="455"/><polygon points="1146.6,449 1151,449 1148.8,455" fill="#000"/>
<line x1="1241.4" y1="456.2" x2="1241.4" y2="469"/><polygon points="1239.2,463 1243.6,463 1241.4,469" fill="#000"/>
<line x1="365" y1="502" x2="365" y2="520.7"/><polygon points="362.8,514.7 367.2,514.7 365,520.7" fill="#000"/>
<line x1="199.7" y1="533.7" x2="199.7" y2="547.5"/><polygon points="197.5,541.5 201.9,541.5 199.7,547.5" fill="#000"/>
<line x1="131" y1="559.4" x2="131" y2="582.5"/><polygon points="128.8,576.5 133.2,576.5 131,582.5" fill="#000"/>
<line x1="433.3" y1="530" x2="433.3" y2="545.4"/><polygon points="431.1,539.4 435.5,539.4 433.3,545.4" fill="#000"/>
<line x1="643.4" y1="536.4" x2="643.4" y2="548.5"/><polygon points="641.2,542.5 645.6,542.5 643.4,548.5" fill="#000"/>
<line x1="767" y1="535.3" x2="767" y2="548.5"/><polygon points="764.8,542.5 769.2,542.5 767,548.5" fill="#000"/>
<line x1="710.2" y1="570.4" x2="710.2" y2="583.5"/><polygon points="708,577.5 712.4,577.5 710.2,583.5" fill="#000"/>
<line x1="985.5" y1="533.1" x2="985.5" y2="547"/><polygon points="983.3,541 987.7,541 985.5,547" fill="#000"/>
<line x1="1195.6" y1="538" x2="1195.6" y2="550.6"/><polygon points="1193.4,544.6 1197.8,544.6 1195.6,550.6" fill="#000"/>
<line x1="1370.7" y1="554.1" x2="1370.7" y2="567.7"/><polygon points="1368.5,561.7 1372.9,561.7 1370.7,567.7" fill="#000"/>
<line x1="872.9" y1="629.8" x2="872.9" y2="641.6"/><polygon points="870.7,635.6 875.1,635.6 872.9,641.6" fill="#000"/>
<line x1="1280.7" y1="631.1" x2="1280.7" y2="647.8"/><polygon points="1278.5,641.8 1282.9,641.8 1280.7,647.8" fill="#000"/>
<line x1="802" y1="693.8" x2="802" y2="706.4"/><polygon points="799.8,700.4 804.2,700.4 802,706.4" fill="#000"/>
<line x1="1195" y1="697.2" x2="1195" y2="707.4"/><polygon points="1192.8,701.4 1197.2,701.4 1195,707.4" fill="#000"/>
<line x1="207.6" y1="614.8" x2="207.6" y2="598"/><polygon points="205.4,604 209.8,604 207.6,598" fill="#000"/>
<line x1="207.6" y1="747" x2="207.6" y2="729.8"/><polygon points="205.4,735.8 209.8,735.8 207.6,729.8" fill="#000"/>
<line x1="473" y1="755.5" x2="473" y2="730.8"/><polygon points="470.8,736.8 475.2,736.8 473,730.8" fill="#000"/>
<line x1="665.2" y1="768.3" x2="665.2" y2="755.4"/><polygon points="663,761.4 667.4,761.4 665.2,755.4" fill="#000"/>
<line x1="1281.9" y1="774.5" x2="1281.9" y2="760.3"/><polygon points="1279.7,766.3 1284.1,766.3 1281.9,760.3" fill="#000"/>
<line x1="720.3" y1="860.7" x2="720.3" y2="850.8"/><polygon points="718.1,856.8 722.5,856.8 720.3,850.8" fill="#000"/>
<line x1="774.6" y1="866.7" x2="774.6" y2="855.8"/><polygon points="772.4,861.8 776.8,861.8 774.6,855.8" fill="#000"/>
<line x1="947.5" y1="856.7" x2="947.5" y2="844.9"/><polygon points="945.3,850.9 949.7,850.9 947.5,844.9" fill="#000"/>
<line x1="1004.3" y1="855.7" x2="1004.3" y2="843.9"/><polygon points="1002.1,849.9 1006.5,849.9 1004.3,843.9" fill="#000"/>
<line x1="1176.2" y1="870" x2="1176.2" y2="855.7"/><polygon points="1174,861.7 1178.4,861.7 1176.2,855.7" fill="#000"/>
<line x1="1253.1" y1="856.4" x2="1253.1" y2="843.8"/><polygon points="1250.9,849.8 1255.3,849.8 1253.1,843.8" fill="#000"/>
<line x1="848.1" y1="948.2" x2="848.1" y2="935.3"/><polygon points="845.9,941.3 850.3,941.3 848.1,935.3" fill="#000"/>
<line x1="942.9" y1="936.2" x2="942.9" y2="922.4"/><polygon points="940.7,928.4 945.1,928.4 942.9,922.4" fill="#000"/>
<line x1="1011.4" y1="934.2" x2="1011.4" y2="922.4"/><polygon points="1009.2,928.4 1013.6,928.4 1011.4,922.4" fill="#000"/>
<line x1="1103.8" y1="948.2" x2="1103.8" y2="936.3"/><polygon points="1101.6,942.3 1106,942.3 1103.8,936.3" fill="#000"/>
<line x1="383" y1="683" x2="400.6" y2="683"/><polygon points="394.6,680.8 394.6,685.2 400.6,683" fill="#000"/>
<line x1="885" y1="686" x2="902" y2="686"/><polygon points="896,683.8 896,688.2 902,686" fill="#000"/>
<line x1="546.7" y1="632.6" x2="519.7" y2="644.3"/><polygon points="524.5,639.9 526.2,644 519.7,644.3" fill="#000"/>
<g fill="#fff">
<circle cx="526" cy="350" r="13"/><circle cx="580" cy="347" r="13"/><circle cx="620" cy="353" r="13"/>
<circle cx="665" cy="355.5" r="13"/><circle cx="753" cy="362" r="13"/><circle cx="859.4" cy="379" r="13"/>
<circle cx="741.5" cy="431.6" r="13"/><circle cx="783" cy="430.5" r="13"/><circle cx="948.2" cy="438.6" r="13"/>
<circle cx="1001.5" cy="438.6" r="13"/><circle cx="1101.2" cy="383.6" r="13"/><circle cx="1148.8" cy="426.2" r="13"/>
<circle cx="1241.4" cy="443.2" r="13"/><circle cx="365" cy="489" r="13"/><circle cx="199.7" cy="520.7" r="13"/>
<circle cx="131" cy="546.4" r="13"/><circle cx="433.3" cy="517" r="13"/><circle cx="643.4" cy="523.4" r="13"/>
<circle cx="767" cy="522.3" r="13"/><circle cx="710.2" cy="557.4" r="13"/><circle cx="985.5" cy="520.1" r="13"/>
<circle cx="1195.6" cy="525" r="13"/><circle cx="1370.7" cy="541.1" r="13"/><circle cx="872.9" cy="616.8" r="13"/>
<circle cx="1280.7" cy="618.1" r="13"/><circle cx="802" cy="680.8" r="13"/><circle cx="1195" cy="684.2" r="13"/>
<circle cx="207.6" cy="627.8" r="13"/><circle cx="207.6" cy="760" r="13"/><circle cx="473" cy="768.5" r="13"/>
<circle cx="665.2" cy="781.3" r="13"/><circle cx="1281.9" cy="787.5" r="13"/><circle cx="720.3" cy="873.7" r="13"/>
<circle cx="774.6" cy="879.7" r="13"/><circle cx="947.5" cy="869.7" r="13"/><circle cx="1004.3" cy="868.7" r="13"/>
<circle cx="1176.2" cy="883" r="13"/><circle cx="1253.1" cy="869.4" r="13"/><circle cx="848.1" cy="961.2" r="13"/>
<circle cx="942.9" cy="949.2" r="13"/><circle cx="1011.4" cy="947.2" r="13"/><circle cx="1103.8" cy="961.2" r="13"/>
<circle cx="370" cy="683" r="13"/><circle cx="872" cy="686" r="13"/><circle cx="558.6" cy="627.5" r="13"/>
</g>
</g>
<g font-size="11.5" text-anchor="middle">
<text x="526" y="354">25</text><text x="580" y="351">16</text><text x="620" y="357">27</text>
<text x="665" y="359.5">26</text><text x="753" y="366">24</text><text x="859.4" y="383">10</text>
<text x="741.5" y="435.6">30</text><text x="783" y="434.5">12</text><text x="948.2" y="442.6">6</text>
<text x="1001.5" y="442.6">7</text><text x="1101.2" y="387.6">10</text><text x="1148.8" y="430.2">12</text>
<text x="1241.4" y="447.2">29</text><text x="365" y="493">17</text><text x="199.7" y="524.7">20</text>
<text x="131" y="550.4">8</text><text x="433.3" y="521">15</text><text x="643.4" y="527.4">22</text>
<text x="767" y="526.3">11</text><text x="710.2" y="561.4">14</text><text x="985.5" y="524.1">1</text>
<text x="1195.6" y="529">11</text><text x="1370.7" y="545.1">8</text><text x="872.9" y="620.8">18</text>
<text x="1280.7" y="622.1">23</text><text x="802" y="684.8">3</text><text x="1195" y="688.2">3</text>
<text x="207.6" y="631.8">21</text><text x="207.6" y="764">19</text><text x="473" y="772.5">22</text>
<text x="665.2" y="785.3">4</text><text x="1281.9" y="791.5">4</text><text x="720.3" y="877.7">30</text>
<text x="774.6" y="883.7">12</text><text x="947.5" y="873.7">6</text><text x="1004.3" y="872.7">5</text>
<text x="1176.2" y="887">12</text><text x="1253.1" y="873.4">31</text><text x="848.1" y="965.2">13</text>
<text x="942.9" y="953.2">9</text><text x="1011.4" y="951.2">9</text><text x="1103.8" y="965.2">13</text>
<text x="370" y="687">2</text><text x="872" y="690">2</text><text x="558.6" y="631.5">28</text>
</g>

<!-- ===== Top-right left side view ===== -->
<g stroke="#000" stroke-width="1">
<rect x="1143" y="101" width="42" height="11" fill="url(#gv)"/>
<rect x="1120.6" y="98.4" width="15" height="16.6" rx="2" fill="#2a2a2e"/>
<rect x="1190.8" y="98.4" width="10.8" height="16.6" rx="2" fill="url(#gv)"/>
<rect x="1143" y="262" width="46" height="13" fill="url(#gv)"/>
<rect x="1112.5" y="262" width="16.2" height="13" fill="#1a1a1a"/>
<rect x="1128" y="259" width="6" height="19" fill="url(#gv)"/>
<rect x="1200.2" y="258" width="10.8" height="20.4" rx="2" fill="url(#gv)"/>
<polygon points="1053,153 1077.4,137 1077.4,153" fill="#77777d"/>
<rect x="1070.7" y="150" width="7" height="75" fill="#808086"/>
<rect x="1085.5" y="151" width="31" height="73.6" fill="url(#gh)"/>
<rect x="1077.4" y="128" width="8.1" height="120.7" fill="#6a6a70"/>
<rect x="1070.7" y="141" width="8" height="9" fill="url(#gb)"/>
<rect x="1070.7" y="183.7" width="8" height="9.3" fill="url(#gb)"/>
<rect x="1070.7" y="213.4" width="8" height="9.3" fill="url(#gb)"/>
<rect x="1092.8" y="62" width="10.2" height="102" rx="2" fill="#6e6e74"/>
<rect x="1103" y="141" width="8" height="9" fill="url(#gb)"/><rect x="1103" y="154" width="8" height="9.3" fill="url(#gb)"/>
<rect x="1107" y="183.7" width="9.6" height="9.3" fill="url(#gb)"/>
<rect x="1078.8" y="65" width="14.8" height="17.6" rx="2" fill="url(#gb)"/>
<rect x="1103" y="67" width="20" height="13" fill="url(#gb)"/>
<rect x="1122" y="64" width="8" height="19.5" rx="1.5" fill="url(#gb)"/>
<rect x="1115.2" y="151" width="9.5" height="74.5" fill="#6e6e74"/>
<rect x="1124.7" y="139" width="67.5" height="98.6" fill="url(#gh)"/>
<rect x="1192.2" y="148.5" width="12.1" height="74.2" fill="#6e6e74"/>
<rect x="1138" y="75" width="5.6" height="87.4" fill="#6e6e74"/>
<rect x="1184.9" y="75" width="4.6" height="87.4" fill="#6e6e74"/>
<rect x="1132.8" y="212.5" width="10.8" height="103" fill="#8a8a90"/>
<rect x="1189.5" y="212.5" width="10.7" height="103" fill="#8a8a90"/>
<rect x="1196" y="146" width="8" height="9" fill="#333"/>
</g>

<!-- ===== Top-right iso view ===== -->
<g stroke="#000" stroke-width="1">
<path d="M1386 80 Q1390 70 1400 70 Q1412 71 1414 82 L1428 160 L1400 160 L1372 135 Z" fill="#8e8e94"/>
<path d="M1364 85 Q1368 78 1376 79 L1384 88 L1386 130 L1366 132 Z" fill="#76767c"/>
<ellipse cx="1401" cy="85" rx="4" ry="6" fill="#fff"/><ellipse cx="1404" cy="100" rx="4" ry="6" fill="#fff"/><ellipse cx="1372" cy="97" rx="3" ry="6" fill="#fff"/><ellipse cx="1375" cy="117" rx="3" ry="6" fill="#fff"/>
<path d="M1396 246.8 L1438 246.8 Q1442 248 1441.8 256 L1441.8 306 Q1441 313.6 1434 313.6 L1400 313.6 Q1396 313 1396 306 Z" fill="url(#gt)"/>
<path d="M1329.8 232 Q1330 226.4 1336 226.4 L1390 226.4 Q1395.9 228 1395.9 234 L1395.9 306 Q1395 313.6 1388 313.6 L1337 313.6 Q1329.8 313 1329.8 306 Z" fill="url(#gt)"/>
<g fill="#7a7a7e" stroke-width="0.8">
<ellipse cx="1335.6" cy="250.5" rx="2.2" ry="4.5"/><ellipse cx="1389.2" cy="250.5" rx="2.2" ry="4.5"/>
<ellipse cx="1335.6" cy="268.2" rx="2.2" ry="4.5"/><ellipse cx="1389.2" cy="268.2" rx="2.2" ry="4.5"/>
<ellipse cx="1335.6" cy="285.8" rx="2.2" ry="4.5"/><ellipse cx="1389.2" cy="285.8" rx="2.2" ry="4.5"/>
<ellipse cx="1335.6" cy="303.4" rx="2.2" ry="4.5"/><ellipse cx="1389.2" cy="303.4" rx="2.2" ry="4.5"/>
<ellipse cx="1427" cy="262" rx="2.2" ry="4.5"/><ellipse cx="1427" cy="280" rx="2.2" ry="4.5"/><ellipse cx="1427" cy="298" rx="2.2" ry="4.5"/>
</g>
<ellipse cx="1363.5" cy="269" rx="6" ry="16" fill="#bdbdc2"/>
<circle cx="1359.5" cy="265.4" r="6" fill="#6a6a70"/><rect x="1361" y="260" width="6" height="10" fill="#b0b040"/>
<rect x="1355.4" y="299.7" width="16.2" height="8.3" fill="#111"/>
<rect x="1357.5" y="301.5" width="3.5" height="4.5" fill="#d8d040" stroke="none"/><rect x="1362" y="301.5" width="3.5" height="4.5" fill="#d8d040" stroke="none"/><rect x="1366.5" y="301.5" width="3.5" height="4.5" fill="#d8d040" stroke="none"/>
<path d="M1358 150 L1425 156 Q1436 175 1436 190 Q1436 207 1425 224.6 L1358 230 Z" fill="url(#gh)"/>
<ellipse cx="1376" cy="190" rx="16" ry="36" fill="#55555b"/>
<rect x="1370" y="185" width="14" height="9" fill="url(#gb)"/>
<path d="M1330 150 Q1360 128 1400 128 Q1412 130 1416 140 L1415 158 L1400 160 Q1380 150 1366 165 Q1356 180 1357 195 Q1358 215 1370 226 Q1385 235 1400 230 L1410 232 L1410 245 Q1395 250 1375 244 Q1340 230 1333 200 Q1328 170 1330 150 Z" fill="#66666c"/>
<path d="M1336 75 Q1340 62 1350 62 Q1360 62 1362 72 L1367 135 L1345 150 L1305 160 Z" fill="#5c5c62"/>
<ellipse cx="1344.6" cy="91" rx="3.5" ry="6" fill="#8a8a8e"/><ellipse cx="1339" cy="128" rx="4" ry="8" fill="#8a8a8e"/>
<path d="M1296 160 Q1300 150 1310 152 L1340 150 Q1352 160 1351.4 190 Q1352 222 1340 228 L1305 228 Q1292 222 1292 190 Z" fill="#6a6a70"/>
<ellipse cx="1321.7" cy="191.2" rx="25" ry="31.6" fill="#77777d"/>
<ellipse cx="1322.5" cy="191.5" rx="20" ry="27" fill="url(#gbore)"/>
<ellipse cx="1327" cy="192" rx="14" ry="25" fill="none" stroke="#2b5fd0" stroke-width="1.6"/>
<g fill="#55555b" stroke-width="0.8"><circle cx="1300" cy="162" r="3.2"/><circle cx="1341" cy="160" r="3.2"/><circle cx="1296" cy="191" r="3.2"/><circle cx="1346" cy="191" r="3.2"/><circle cx="1300" cy="222" r="3.2"/><circle cx="1341" cy="222" r="3.2"/><circle cx="1384" cy="165" r="3"/><circle cx="1390" cy="215" r="3"/></g>
<path d="M1331 68 L1336 64 L1347 64 L1351.4 68 L1351.4 77 L1347 81 L1336 81 L1331 77 Z" fill="url(#gb)"/>
<path d="M1360 66 L1364 63 L1372 63 L1375.7 66 L1375.7 75 L1372 78 L1364 78 L1360 75 Z" fill="url(#gb)"/>
</g>

<!-- ===== From tire view ===== -->
<g stroke="#000" stroke-width="1.1">
<path d="M170 880 Q160 880 157 888 L134 955 L165 950 L182 885 Z" fill="#7c7c82"/>
<rect x="123.8" y="1024" width="95.2" height="96" rx="5" fill="url(#gt2)"/>
<path d="M202 956 Q240 940 276 932 Q292 931 296.6 942 L296.6 958 L262 955 Q221 965 221 994 Q221 1022 262 1027 L296.6 1025 L296.6 1043 Q292 1051 270 1050 Q235 1042 202 1028 Z" fill="#5e5e66"/>
<rect x="290" y="941" width="3" height="15" fill="#a8a8ac" stroke-width="0.6"/>
<path d="M179 874 Q181 866 189 866 Q198 866 200 874 L206 952 L185 960 L136 957 Z" fill="#5e5e66"/>
<circle cx="189" cy="896" r="4.5" fill="#d0d0d4"/>
<ellipse cx="181.4" cy="932.3" rx="8" ry="9" fill="#8a8a86"/>
<path d="M140 950 Q160 940 171 946 Q185 940 205 955 Q214 975 214 995 Q214 1015 205 1025 Q185 1032 171 1030 Q150 1032 135 1025 Q121 1012 121 994 Q121 972 140 950 Z" fill="#6a6a72"/>
<circle cx="171" cy="994.6" r="33" fill="#6a6a72"/>
<circle cx="171" cy="994.6" r="30" fill="#8a8a90"/>
<circle cx="171" cy="994.6" r="26.5" fill="#fff"/>
<g fill="#6e6e60"><circle cx="138" cy="962" r="4"/><circle cx="171" cy="949.6" r="4"/><circle cx="202.2" cy="962" r="4"/><circle cx="127.6" cy="991.7" r="4"/><circle cx="214.4" cy="990.7" r="4"/><circle cx="138" cy="1021.4" r="4"/><circle cx="202.2" cy="1021.4" r="4"/></g>
<g fill="#fff"><circle cx="271" cy="942.9" r="3.5"/><circle cx="217.3" cy="961" r="3.5"/><circle cx="217.3" cy="1021.4" r="3.5"/><circle cx="271" cy="1040.5" r="3.5"/></g>
<rect x="151" y="1023" width="41.7" height="9.6" rx="2" fill="url(#gv)"/>
<rect x="187" y="1023" width="6" height="9.6" fill="url(#gb)"/>
<g fill="#fff"><circle cx="133.2" cy="1038.6" r="3.4"/><circle cx="208.8" cy="1038.6" r="3.4"/><circle cx="133.2" cy="1055.9" r="3.4"/><circle cx="208.8" cy="1055.9" r="3.4"/><circle cx="133.2" cy="1074" r="3.4"/><circle cx="208.8" cy="1074" r="3.4"/><circle cx="133.2" cy="1092" r="3.4"/><circle cx="208.8" cy="1092" r="3.4"/><circle cx="133.2" cy="1109.5" r="3.4"/><circle cx="208.8" cy="1109.5" r="3.4"/></g>
<path d="M171 1049 Q177 1049 177 1055 Q175 1061 177 1066 L177 1078 Q175 1083 177 1089 Q177 1095 171 1095 Q165 1095 165 1089 Q167 1083 165 1078 L165 1066 Q167 1061 165 1055 Q165 1049 171 1049 Z" fill="#fff"/>
<circle cx="171" cy="1071" r="10" fill="#6a6a72"/>
<circle cx="171" cy="1071" r="7" fill="#8a8a90"/>
<circle cx="171" cy="1071" r="3.5" fill="#55555b"/>
<rect x="159.7" y="1106.6" width="22.6" height="7.4" fill="#111"/>
<rect x="162" y="1108.3" width="5" height="4" fill="#d8d040" stroke="none"/><rect x="168.5" y="1108.3" width="5" height="4" fill="#d8d040" stroke="none"/><rect x="175" y="1108.3" width="5" height="4" fill="#d8d040" stroke="none"/>
<path d="M182 870 L186 867.5 L192 867.5 L196 870 L196 883 L192 885.5 L186 885.5 L182 883 Z" fill="url(#gb)"/>
</g>
</g>
<text x="221" y="2059" font-size="20" font-weight="bold" textLength="185" lengthAdjust="spacingAndGlyphs">FROM TIRE VIEW</text>
</svg>
</body></html>
